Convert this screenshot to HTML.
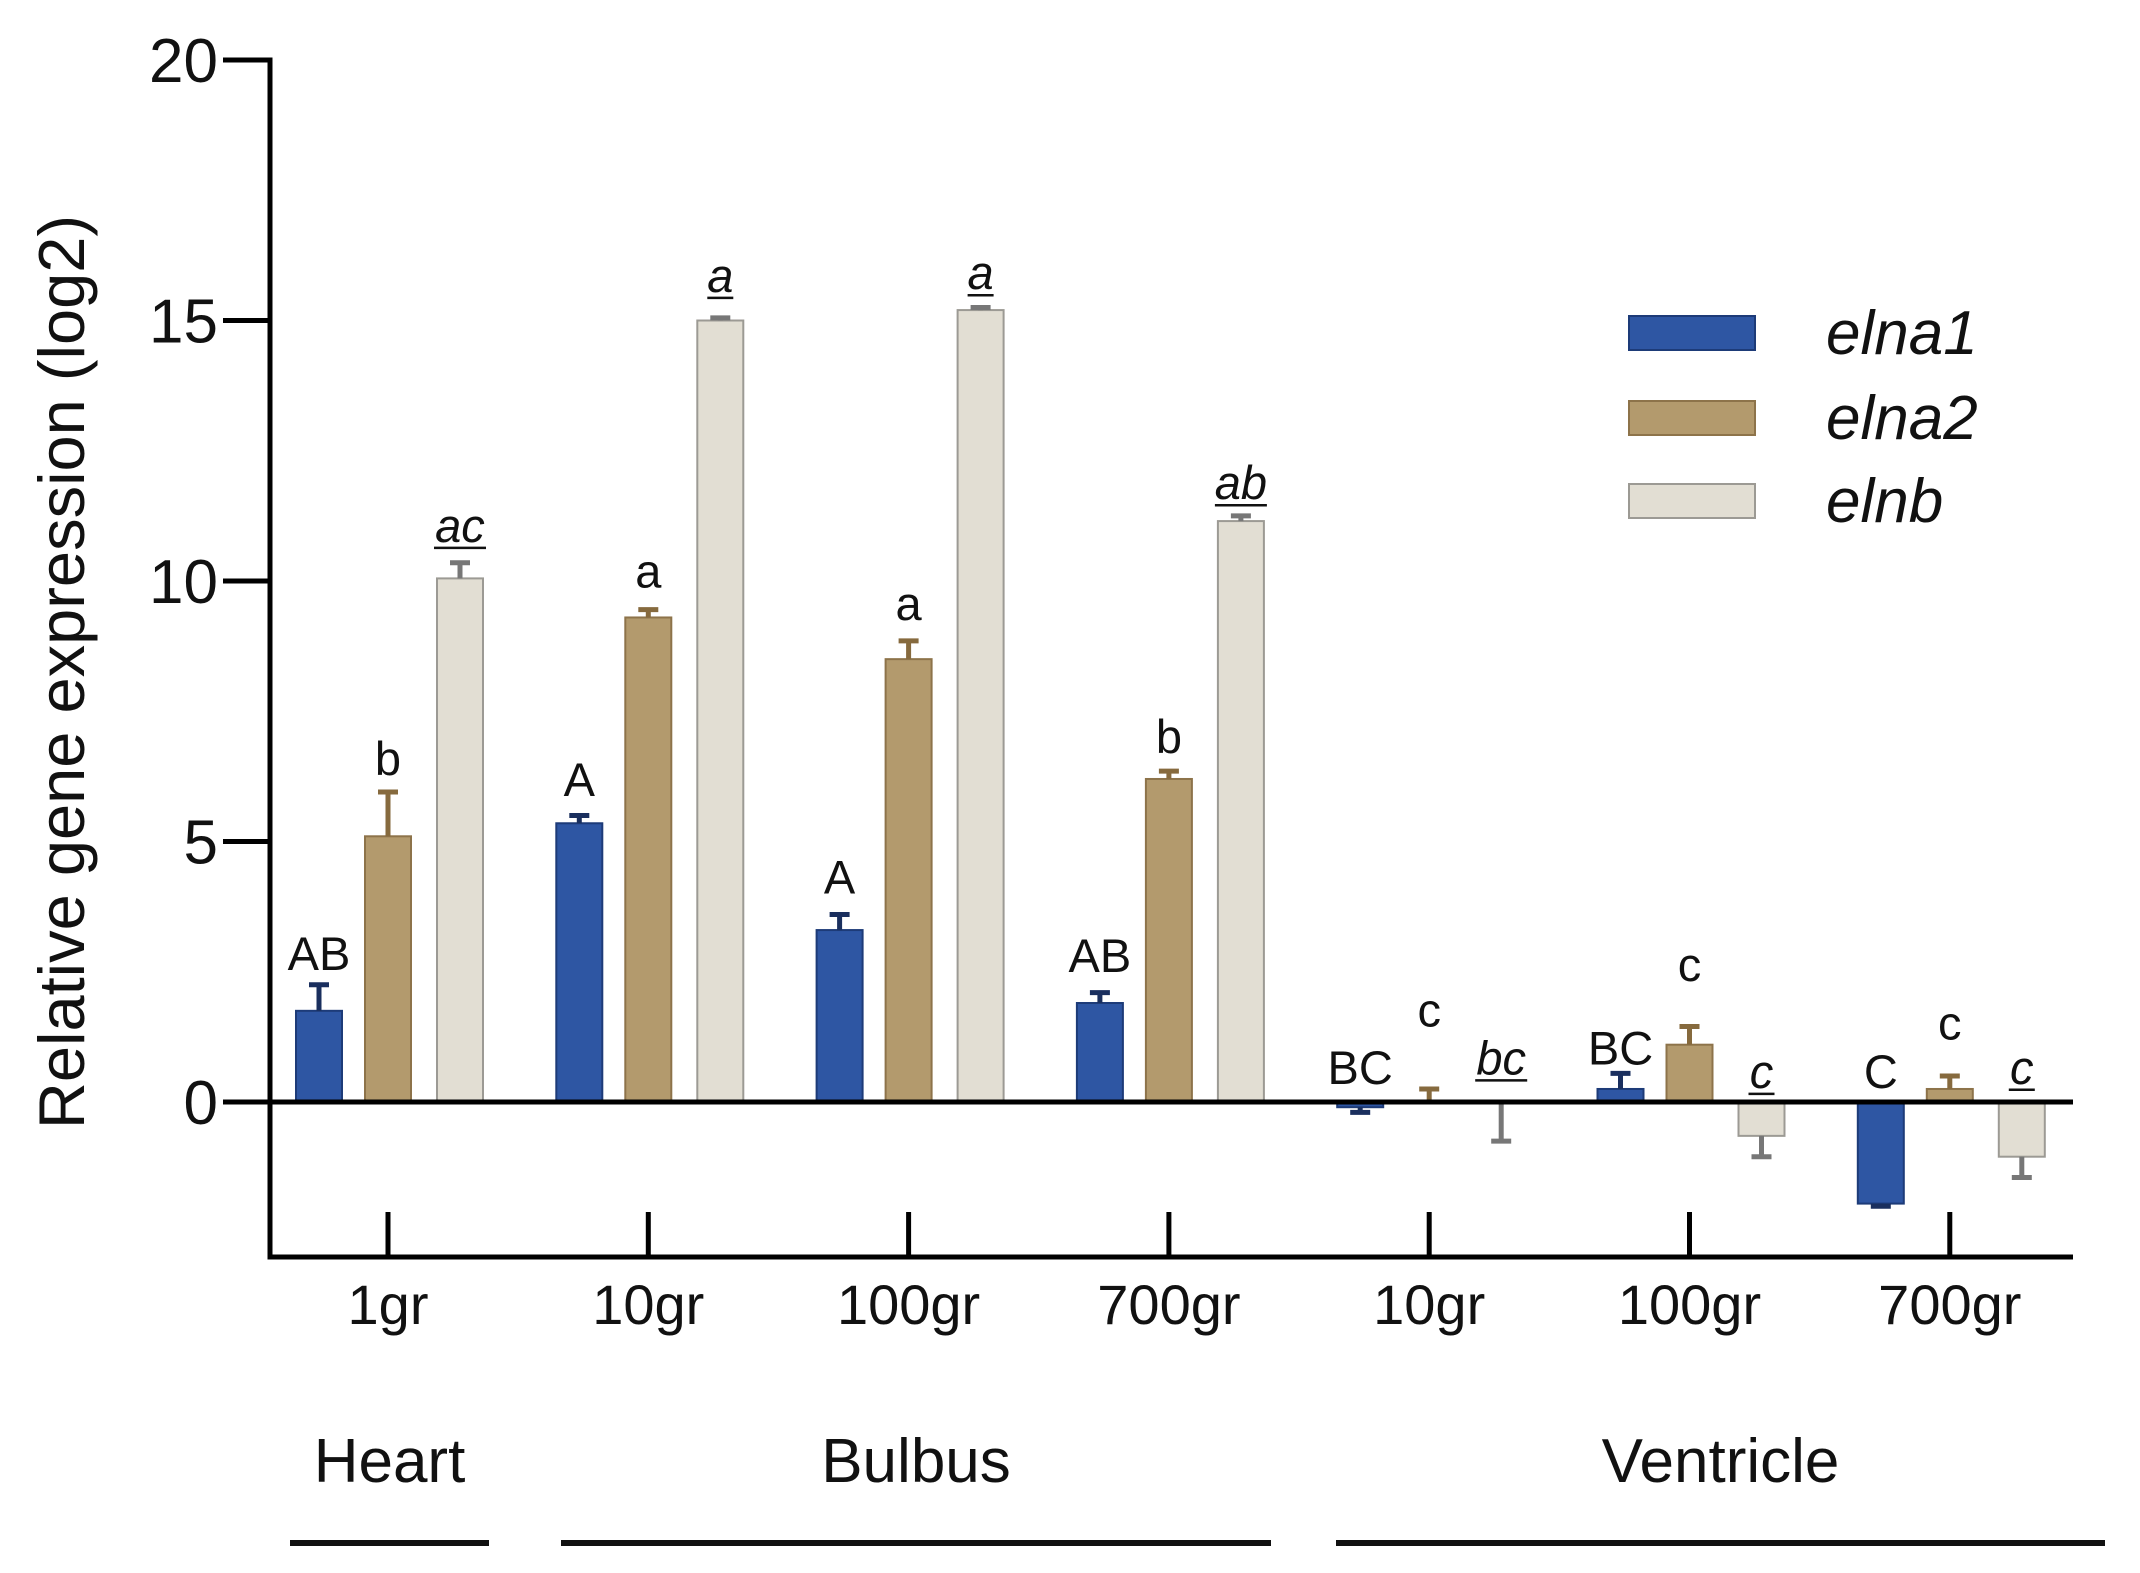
<!DOCTYPE html>
<html><head><meta charset="utf-8"><style>
html,body{margin:0;padding:0;background:#fff;}
svg{display:block;font-family:"Liberation Sans",Arial,sans-serif;}
</style></head><body>
<svg id="chart" width="2140" height="1573" viewBox="0 0 2140 1573"></svg>
<script>
const categories=["1gr","10gr","100gr","700gr","10gr","100gr","700gr"];
const elna1=[1.75,5.35,3.3,1.9,-0.1,0.25,-1.95];
const elna1Err=[0.5,0.15,0.3,0.2,0.1,0.3,0.05];
const elna2=[5.1,9.3,8.5,6.2,0,1.1,0.25];
const elna2Err=[0.85,0.15,0.35,0.15,0.25,0.35,0.25];
const elnb=[10.05,15.0,15.2,11.15,0,-0.65,-1.05];
const elnbErr=[0.3,0.05,0.05,0.1,0.75,0.4,0.4];
const lab1=["AB","A","A","AB","BC","BC","C"];
const lab2=["b","a","a","b","c","c","c"];
const lab3=["ac","a","a","ab","bc","c","c"];
const lab1Pos=[2.53,5.87,4.0,2.5,0.35,0.72,0.27];
const lab2Pos=[6.28,9.88,9.25,6.7,1.45,2.32,1.2];
const lab3Pos=[10.75,15.55,15.6,11.57,0.53,0.27,0.35];
const yTicks=[0,5,10,15,20];
const groups=[{name:"Heart",x1:290,x2:489},{name:"Bulbus",x1:561,x2:1271},{name:"Ventricle",x1:1336,x2:2105}];

const NS="http://www.w3.org/2000/svg";
const svg=document.getElementById("chart");
function el(tag,attrs,parent){const e=document.createElementNS(NS,tag);for(const k in attrs)e.setAttribute(k,attrs[k]);(parent||svg).appendChild(e);return e;}
const y=v=>1102-v*52.1;
const xc=i=>388+260.3*i;
const series=[
 {vals:elna1,err:elna1Err,labs:lab1,lp:lab1Pos,fill:"#2e56a3",stroke:"#1d3b78",ecol:"#1a2f5e",italic:false,name:"elna1"},
 {vals:elna2,err:elna2Err,labs:lab2,lp:lab2Pos,fill:"#b39a6d",stroke:"#8d734a",ecol:"#866a3e",italic:false,name:"elna2"},
 {vals:elnb,err:elnbErr,labs:lab3,lp:lab3Pos,fill:"#e2ded3",stroke:"#9c9a94",ecol:"#777",italic:true,name:"elnb"}];
const offs=[-69,0,72];
const bw=46;
series.forEach((s,si)=>{
 s.vals.forEach((v,i)=>{
  const cx=xc(i)+offs[si];
  const top=Math.min(y(v),y(0)),h=Math.abs(y(v)-y(0));
  const r=el("rect",{x:cx-bw/2,y:top,width:bw,height:Math.max(h,0.01),fill:s.fill,stroke:s.stroke,"stroke-width":2});
  
  
  const ev=v>0?v+s.err[i]:(v<0?v-s.err[i]:(si==1?s.err[i]:-s.err[i]));
  const e=el("path",{d:`M${cx} ${y(v)} V${y(ev)} M${cx-10} ${y(ev)} H${cx+10}`,stroke:s.ecol,"stroke-width":5,fill:"none"});
  
  
  const t=el("text",{x:cx,y:y(s.lp[i]),"font-size":47,"text-anchor":"middle",fill:"#111","font-style":s.italic?"italic":"normal"});
  t.textContent=s.labs[i];
  
  
  if(s.italic){const w=s.labs[i].length*26;const u=el("line",{x1:cx-w/2,x2:cx+w/2,y1:y(s.lp[i])+6,y2:y(s.lp[i])+6,stroke:"#111","stroke-width":2.5});
   
   }
 });
});
const ax=el("path",{d:"M223 60 H270 V1257 H2073",stroke:"#000","stroke-width":5,fill:"none"});


const zl=el("line",{x1:223,x2:2073,y1:y(0),y2:y(0),stroke:"#000","stroke-width":5});


yTicks.forEach(v=>{
 const tk=el("line",{x1:223,x2:270,y1:y(v),y2:y(v),stroke:"#000","stroke-width":5});
 
 
 const t=el("text",{x:218,y:y(v)+22,"font-size":62,"text-anchor":"end",fill:"#111"});
 t.textContent=v;
 
 
});
categories.forEach((c,i)=>{
 const tk=el("line",{x1:xc(i),x2:xc(i),y1:1212,y2:1257,stroke:"#000","stroke-width":5});
 
 
 const t=el("text",{x:xc(i),y:1324,"font-size":56,"text-anchor":"middle",fill:"#111"});
 t.textContent=c;
 
 
});
groups.forEach(g=>{
 const t=el("text",{x:(g.x1+g.x2)/2,y:1482,"font-size":62,"text-anchor":"middle",fill:"#111"});
 t.textContent=g.name;
 
 
 const l=el("line",{x1:g.x1,x2:g.x2,y1:1543,y2:1543,stroke:"#111","stroke-width":6});
 
 
});
const yl=el("text",{x:0,y:0,"font-size":65,"text-anchor":"middle",fill:"#111",transform:"translate(84,672) rotate(-90)"});
yl.textContent="Relative gene expression (log2)";


const ly=[333,418,501];
series.forEach((s,si)=>{
 const r=el("rect",{x:1629,y:ly[si]-17,width:126,height:34,fill:s.fill,stroke:s.stroke,"stroke-width":2});
 
 
 const t=el("text",{x:1826,y:ly[si]+21,"font-size":62,"font-style":"italic",fill:"#111"});
 t.textContent=s.name;
 
 
});
</script>
</body></html>
